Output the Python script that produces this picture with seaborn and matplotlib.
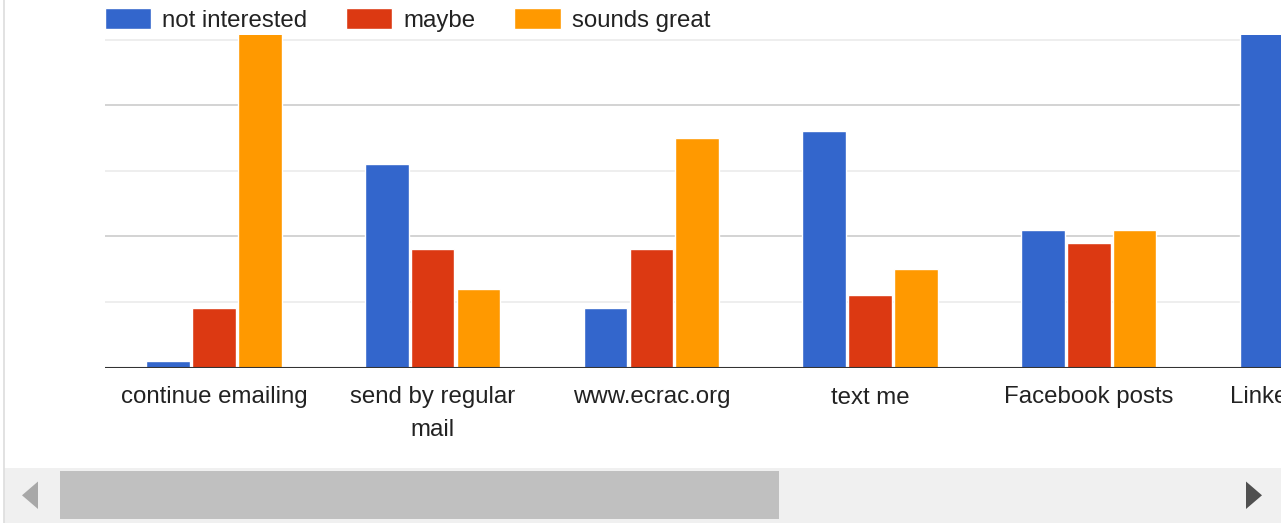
import numpy as np
import pandas as pd
import matplotlib.pyplot as plt
import seaborn as sns
from matplotlib.patches import Rectangle, Polygon
from matplotlib.lines import Line2D

# 数据（从图中读取，每格 10）
categories = ["continue emailing", "send by regular\nmail", "www.ecrac.org",
              "text me", "Facebook posts", "LinkedIn posts"]
not_interested = [1, 31, 9, 36, 21, 51]
maybe = [9, 18, 18, 11, 19, np.nan]
sounds_great = [51, 12, 35, 15, 21, np.nan]
series_names = ["not interested", "maybe", "sounds great"]
colors = ["#3366cc", "#dc3912", "#ff9900"]

rows = []
for name, vals in zip(series_names, [not_interested, maybe, sounds_great]):
    for cat, v in zip(categories, vals):
        rows.append({"category": cat, "answer": name, "count": v})
df = pd.DataFrame(rows).dropna()

sns.set_style("white")
plt.rcParams['font.family'] = ['Liberation Sans', 'DejaVu Sans']

W, H = 1281, 523
fig = plt.figure(figsize=(W / 100, H / 100), dpi=100)
ax_h = 367.5 - 35
ax = fig.add_axes([105 / W, 1 - 367.5 / H, 1 - 105 / W, ax_h / H])

# 网格线
for y in [10, 30, 50]:
    ax.axhline(y, color="#ebebeb", lw=1.2, zorder=0)
for y in [20, 40]:
    ax.axhline(y, color="#cccccc", lw=1.2, zorder=0)

sns.barplot(data=df, x="category", y="count", hue="answer", order=categories,
            hue_order=series_names, palette=colors, width=0.63, gap=0.05,
            errorbar=None, saturation=1, ax=ax, zorder=2)

ax.axhline(0, color="#333333", lw=1.5, zorder=3)
ax.set_xlim(-0.498, 4.879)
ax.set_ylim(0, 50.7)
ax.set_xlabel("")
ax.set_ylabel("")
ax.set_yticks([])
ax.set_xticks([])
for s in ax.spines.values():
    s.set_visible(False)

# x 轴标签（手动放置，最后一个被图边缘截断）
for i, cat in enumerate(categories):
    ax.text(i, -19 / ax_h, cat, transform=ax.get_xaxis_transform(),
            ha="center", va="top", fontsize=17.3, color="#222222",
            linespacing=1.6, clip_on=False)

# 图例
handles, labels = ax.get_legend_handles_labels()
ax.legend(handles, labels, loc="center left", ncol=3, frameon=False,
          bbox_to_anchor=(105 / W, 1 - 20 / H), bbox_transform=fig.transFigure,
          borderaxespad=0, borderpad=0, fontsize=17.3, labelcolor="#222222",
          handlelength=1.92, handleheight=0.92, handletextpad=0.46,
          columnspacing=1.62)

# 滚动条
sb = fig.add_axes([0, 0, 1, 55 / H])
sb.set_xlim(0, W)
sb.set_ylim(55, 0)
sb.axis("off")
sb.add_patch(Rectangle((4, 0), W - 4, 55, color="#f0f0f0", lw=0))
sb.add_patch(Rectangle((60, 3), 719, 47.5, color="#c0c0c0", lw=0))
sb.add_patch(Polygon([[38, 13.5], [38, 41], [22, 27.3]], color="#a8a8a8", lw=0))
sb.add_patch(Polygon([[1246, 13.5], [1246, 41], [1262, 27.3]], color="#505050", lw=0))

fig.add_artist(Line2D([3.5 / W, 3.5 / W], [0, 1], color="#dddddd", lw=1.2))

fig.savefig("out.png", dpi=100)
